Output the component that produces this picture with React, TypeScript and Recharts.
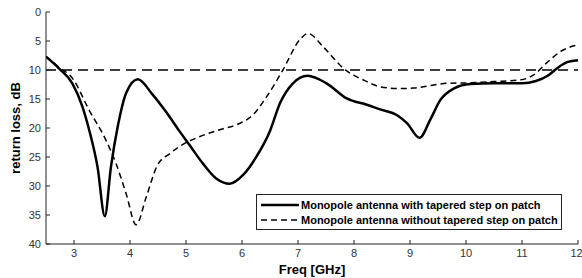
import {
  LineChart,
  Line,
  XAxis,
  YAxis,
  ReferenceLine,
  Label,
} from "recharts";

// return loss (dB) vs frequency (GHz)
const withTaperFreq = [
  2.5, 2.73, 2.97, 3.15, 3.27, 3.42, 3.55, 3.66, 3.78, 3.93, 4.14, 4.4, 4.65,
  4.88, 5.06, 5.3, 5.54, 5.78, 6.02, 6.26, 6.5, 6.68, 6.91, 7.17, 7.51, 7.87,
  8.23, 8.47, 8.77, 8.95, 9.17, 9.36, 9.54, 9.78, 10.08, 10.5, 11.0, 11.25,
  11.46, 11.64, 11.82, 12,
];
const withTaperLoss = [
  7.7, 9.7, 12.3, 16.3, 20.3, 26.7, 35.2, 26.7, 19.8, 14.0, 11.6, 14.2, 17.3,
  20.5, 22.9, 26.1, 28.7, 29.6, 28.1, 24.9, 20.5, 15.7, 12.3, 11.0, 12.3, 14.9,
  16.0, 16.8, 17.8, 19.2, 21.7, 18.6, 15.2, 13.2, 12.4, 12.3, 12.3, 11.9, 11.0,
  9.6, 8.6, 8.3,
];

const noTaperFreq = [
  2.5, 2.73, 2.97, 3.27, 3.57, 3.75, 3.93, 4.11, 4.29, 4.49, 4.7, 4.88, 5.24,
  5.6, 5.96, 6.19, 6.44, 6.73, 7.03, 7.18, 7.45, 7.81, 8.23, 8.47, 8.83, 9.06,
  9.66, 10.08, 10.5, 10.98, 11.2, 11.46, 11.69, 11.87, 12,
];
const noTaperLoss = [
  7.7, 9.5, 11.4, 16.9, 22.1, 26.1, 31.3, 36.7, 31.9, 26.4, 24.5, 23.2, 21.5,
  20.3, 19.2, 17.8, 14.6, 10.0, 4.8, 3.7, 6.0, 9.7, 12.0, 12.9, 13.2, 13.1,
  12.3, 12.2, 12.0, 11.7, 10.9, 8.6, 6.8, 6.0, 5.7,
];

const xTicks = [3, 4, 5, 6, 7, 8, 9, 10, 11, 12];
const yTicks = [0, 5, 10, 15, 20, 25, 30, 35, 40];
const threshold = 10;

const seriesNames = [
  "Monopole antenna with tapered step on patch",
  "Monopole antenna without tapered step on patch",
];

const withTaper = withTaperFreq.map((f, i) => ({ f, v: withTaperLoss[i] }));
const noTaper = noTaperFreq.map((f, i) => ({ f, v: noTaperLoss[i] }));

const font = "Arial, 'Liberation Sans', sans-serif";
const tickStyle = { fontSize: 11, fill: "#333", fontFamily: font };

function LegendBox() {
  return (
    <div
      style={{
        position: "absolute",
        left: 256,
        top: 194,
        border: "1px solid #222",
        background: "#fff",
        width: 304,
        padding: "2px 0",
        fontFamily: font,
        fontWeight: "bold",
        fontSize: 11,
        color: "#000",
      }}
    >
      {seriesNames.map((name, i) => (
        <div key={name} style={{ display: "flex", alignItems: "center", height: 15 }}>
          <svg width={42} height={10} style={{ marginLeft: 2 }}>
            <line
              x1={2}
              y1={5}
              x2={40}
              y2={5}
              stroke="#000"
              strokeWidth={i === 0 ? 2.5 : 1.5}
              strokeDasharray={i === 0 ? undefined : "6 4"}
            />
          </svg>
          <span>{name}</span>
        </div>
      ))}
    </div>
  );
}

export default function App() {
  return (
    <div style={{ position: "fixed", left: 0, top: 0, width: 582, height: 278, background: "#fff" }}>
      <LineChart
        width={582}
        height={278}
        margin={{ top: 12, right: 4, left: 0, bottom: 0 }}
      >
        <XAxis
          xAxisId="bottom"
          dataKey="f"
          type="number"
          domain={[2.5, 12]}
          ticks={xTicks}
          allowDataOverflow
          height={34}
          stroke="#222"
          tickSize={-4}
          tickMargin={9}
          tick={tickStyle}
        >
          <Label
            value="Freq [GHz]"
            position="insideBottom"
            offset={4}
            style={{ fontSize: 13, fontWeight: "bold", fill: "#000", fontFamily: font }}
          />
        </XAxis>
        <XAxis
          xAxisId="top"
          orientation="top"
          dataKey="f"
          type="number"
          domain={[2.5, 12]}
          ticks={xTicks}
          allowDataOverflow
          height={0}
          stroke="#222"
          tickSize={-4}
          tick={false}
        />
        <YAxis
          yAxisId="left"
          type="number"
          domain={[0, 40]}
          ticks={yTicks}
          reversed
          width={46}
          stroke="#222"
          tickSize={-4}
          tickMargin={9}
          tick={tickStyle}
        >
          <Label
            value="return loss, dB"
            angle={-90}
            position="insideLeft"
            offset={15}
            style={{ textAnchor: "middle", fontSize: 13, fontWeight: "bold", fill: "#000", fontFamily: font }}
          />
        </YAxis>
        <YAxis
          yAxisId="right"
          orientation="right"
          type="number"
          domain={[0, 40]}
          ticks={yTicks}
          reversed
          width={0}
          stroke="#222"
          tickSize={-4}
          tick={false}
        />
        <ReferenceLine
          xAxisId="bottom"
          yAxisId="left"
          y={threshold}
          stroke="#000"
          strokeWidth={1.5}
          strokeDasharray="10 6"
        />
        <Line
          xAxisId="bottom"
          yAxisId="left"
          data={withTaper}
          dataKey="v"
          name={seriesNames[0]}
          type="monotone"
          stroke="#000"
          strokeWidth={2.5}
          dot={false}
          isAnimationActive={false}
        />
        <Line
          xAxisId="bottom"
          yAxisId="left"
          data={noTaper}
          dataKey="v"
          name={seriesNames[1]}
          type="monotone"
          stroke="#000"
          strokeWidth={1.5}
          strokeDasharray="6 4"
          dot={false}
          isAnimationActive={false}
        />
      </LineChart>
      <LegendBox />
    </div>
  );
}
